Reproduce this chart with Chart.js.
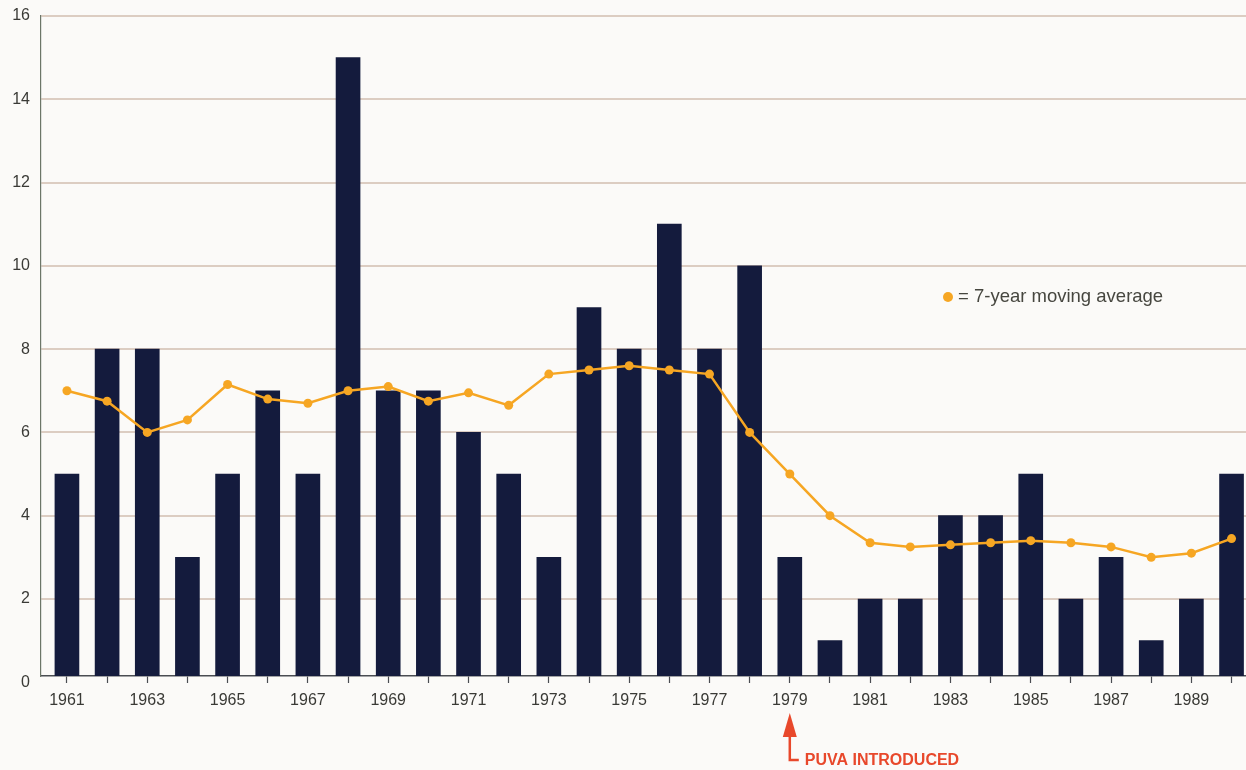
<!DOCTYPE html>
<html>
<head>
<meta charset="utf-8">
<script src="https://cdn.jsdelivr.net/npm/chart.js@4/dist/chart.umd.min.js"></script>
<style>
  html, body { margin: 0; padding: 0; background: #fbfaf8; }
  #wrap { width: 1246px; height: 770px; position: relative; }
</style>
</head>
<body>
<div id="wrap"><canvas id="chart"></canvas></div>
<script>
// data
const years = [1961, 1962, 1963, 1964, 1965, 1966, 1967, 1968, 1969, 1970,
               1971, 1972, 1973, 1974, 1975, 1976, 1977, 1978, 1979, 1980,
               1981, 1982, 1983, 1984, 1985, 1986, 1987, 1988, 1989, 1990];
const cases = [5, 8, 8, 3, 5, 7, 5, 15, 7, 7,
               6, 5, 3, 9, 8, 11, 8, 10, 3, 1,
               2, 2, 4, 4, 5, 2, 3, 1, 2, 5];
const movingAvg = [7.0, 6.75, 6.0, 6.3, 7.15, 6.8, 6.7, 7.0, 7.1, 6.75,
                   6.95, 6.65, 7.4, 7.5, 7.6, 7.5, 7.4, 6.0, 5.0, 4.0,
                   3.35, 3.25, 3.3, 3.35, 3.4, 3.35, 3.25, 3.0, 3.1, 3.45];
const yTicks = [0, 2, 4, 6, 8, 10, 12, 14, 16];
const legendText = '= 7-year moving average';
const noteYear = 1979;
const noteText = 'PUVA INTRODUCED';

const FONT = "'Liberation Sans', Arial, sans-serif";
const navy = '#141b3d';
const orange = '#f6a623';
const grid = '#dccdc2';

// legend text and the arrow under the x axis
const notes = {
  id: 'notes',
  afterDraw(chart) {
    const ctx = chart.ctx;
    ctx.save();
    // legend
    ctx.fillStyle = orange;
    ctx.beginPath();
    ctx.arc(948, 297, 5, 0, Math.PI * 2);
    ctx.fill();
    ctx.fillStyle = '#46463f';
    ctx.font = '18.5px ' + FONT;
    ctx.textBaseline = 'middle';
    ctx.fillText(legendText, 958, 297);

    // PUVA arrow
    const x = chart.scales.x.getPixelForValue(noteYear);
    const red = '#e8482b';
    ctx.strokeStyle = red;
    ctx.fillStyle = red;
    ctx.lineWidth = 2.5;
    ctx.beginPath();
    ctx.moveTo(x, 734);
    ctx.lineTo(x, 760);
    ctx.lineTo(x + 9, 760);
    ctx.stroke();
    ctx.beginPath();
    ctx.moveTo(x, 713);
    ctx.lineTo(x - 7, 737);
    ctx.lineTo(x + 7, 737);
    ctx.closePath();
    ctx.fill();
    ctx.font = 'bold 16px ' + FONT;
    ctx.textBaseline = 'middle';
    ctx.fillText(noteText, x + 15, 761);
    ctx.restore();
  }
};

new Chart(document.getElementById('chart'), {
  data: {
    datasets: [
      {
        type: 'line',
        data: years.map((y, i) => ({ x: y, y: movingAvg[i] })),
        borderColor: orange,
        backgroundColor: orange,
        borderWidth: 2.5,
        pointRadius: 4.5,
        pointBackgroundColor: orange,
        pointBorderWidth: 0,
        tension: 0,
        order: 0
      },
      {
        type: 'bar',
        data: years.map((y, i) => ({ x: y, y: cases[i] })),
        backgroundColor: navy,
        barThickness: 24,
        order: 1
      }
    ]
  },
  options: {
    responsive: true,
    maintainAspectRatio: false,
    animation: false,
    layout: { autoPadding: false, padding: { top: 16, right: 0, left: 0, bottom: 0 } },
    plugins: { legend: { display: false }, tooltip: { enabled: false } },
    scales: {
      x: {
        type: 'linear',
        offset: false,
        min: 1960.354,
        max: 1990.36,
        afterBuildTicks: s => { s.ticks = years.map(v => ({ value: v })); },
        afterFit: s => { s.height = 94; s.paddingLeft = 0; s.paddingRight = 0; },
        grid: {
          offset: false,
          drawOnChartArea: false,
          drawTicks: true,
          tickLength: 7,
          tickColor: '#4a4d52',
          tickWidth: 1.2
        },
        border: { display: true, color: '#4a4d52', width: 1.5 },
        ticks: {
          autoSkip: false,
          maxRotation: 0,
          padding: 8,
          color: '#3a3a36',
          font: { family: FONT, size: 16 },
          callback: v => (v % 2 === 1 ? String(v) : '')
        }
      },
      y: {
        min: 0.15,
        max: 16,
        afterBuildTicks: s => { s.ticks = yTicks.map(v => ({ value: v })); },
        afterFit: s => { s.width = 41; s.paddingTop = 0; s.paddingBottom = 0; },
        grid: {
          drawTicks: false,
          lineWidth: 2,
          color: c => (c.tick && c.tick.value === 0 ? 'rgba(0,0,0,0)' : grid)
        },
        border: { display: true, color: '#6c7668', width: 1.2 },
        ticks: {
          padding: 11,
          color: '#3a3a36',
          font: { family: FONT, size: 16 },
          callback: v => String(v)
        }
      }
    }
  },
  plugins: [notes]
});
</script>
</body>
</html>
